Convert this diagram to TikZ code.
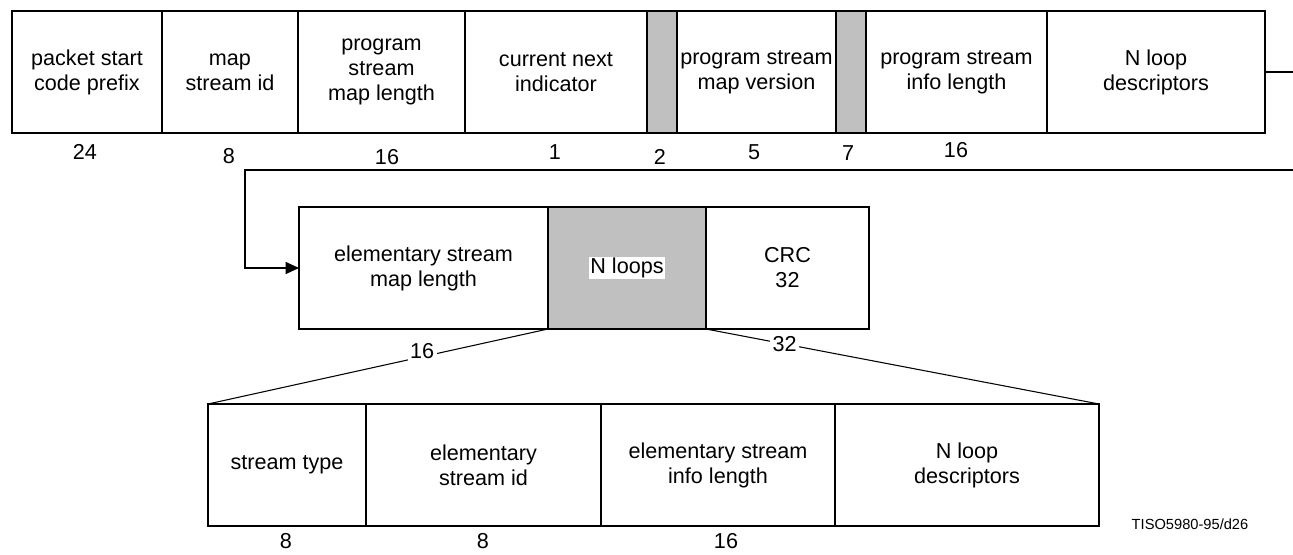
\documentclass[tikz,border=0pt]{standalone}
\usepackage{fontspec}
\setmainfont{Liberation Sans}
\usetikzlibrary{positioning,arrows.meta}
\definecolor{boxgray}{RGB}{192,192,192}
\tikzset{
  field/.style={draw, line width=0.9pt, outer sep=0pt, inner sep=0pt,
    minimum height=91.5pt, minimum width=#1*0.75pt, align=center},
  resv/.style={field=#1, fill=boxgray},
  bits/.style={inner sep=0pt},
  cut/.style={fill=white, inner sep=2pt},
}
\begin{document}
\begin{tikzpicture}[x=0.75pt,y=-0.75pt,font=\fontsize{16.2}{18.8}\selectfont]
  \useasboundingbox (0,0) rectangle (1293,554);
  % program stream map header
  \node[field=150, anchor=north west] (pscp) at (12,11) {packet start\\code prefix};
  \node[field=136, right=0pt of pscp] (msid) {map\\stream id};
  \node[field=167, right=0pt of msid] (psml) {program\\stream\\map length};
  \node[field=182, right=0pt of psml] (cni) {current next\\indicator};
  \node[resv=30, right=0pt of cni] (res1) {};
  \node[field=159, right=0pt of res1] (psmv) {program stream\\map version};
  \node[resv=30, right=0pt of psmv] (res2) {};
  \node[field=181, right=0pt of res2] (psil) {program stream\\info length};
  \node[field=218, right=0pt of psil] (nld) {N loop\\descriptors};
  \node[bits] (b24) at (85,152) {24};
  \node[bits] (b8) at (229,156) {8};
  \node[bits] (b16a) at (387,157) {16};
  \node[bits] (b1) at (555,152) {1};
  \node[bits] (b2) at (660,157) {2};
  \node[bits] (b5) at (754,152) {5};
  \node[bits] (b7) at (848,153) {7};
  \node[bits] (b16b) at (956,150) {16};
  % continuation
  \coordinate (rout) at (1293,72);
  \coordinate (rin) at (1293,170);
  \coordinate (turn) at (245,170);
  \draw[line width=0.9pt] (nld.east) -- (rout);
  % second part
  \node[field=249, anchor=north west] (esml) at (299,207) {elementary stream\\map length};
  \node[resv=158, right=0pt of esml] (nloops) {\setlength{\fboxsep}{1pt}\colorbox{white}{N loops}};
  \node[field=163, right=0pt of nloops] (crc) {CRC\\32};
  \draw[line width=0.9pt, -{Triangle[length=10pt,width=9pt]}] (rin) -- (turn) |- (esml.west);
  % one loop
  \node[field=158, anchor=north west] (stype) at (208,404) {stream type};
  \node[field=235, right=0pt of stype] (esid) {elementary\\stream id};
  \node[field=234, right=0pt of esid] (esil) {elementary stream\\info length};
  \node[field=264, right=0pt of esil] (nld2) {N loop\\descriptors};
  \draw[line width=0.8pt] (nloops.south west) -- node[cut, pos=0.37, yshift=4pt] (b16c) {16} (stype.north west);
  \draw[line width=0.8pt] (nloops.south east) -- node[cut, pos=0.2] (b32) {32} (nld2.north east);
  \node[bits] (b8a) at (286,541) {8};
  \node[bits] (b8b) at (483,541) {8};
  \node[bits] (b16d) at (726,541) {16};
  \node[font=\fontsize{11}{13}\selectfont] (figid) at (1190,524) {TISO5980-95/d26};
\end{tikzpicture}
\end{document}
